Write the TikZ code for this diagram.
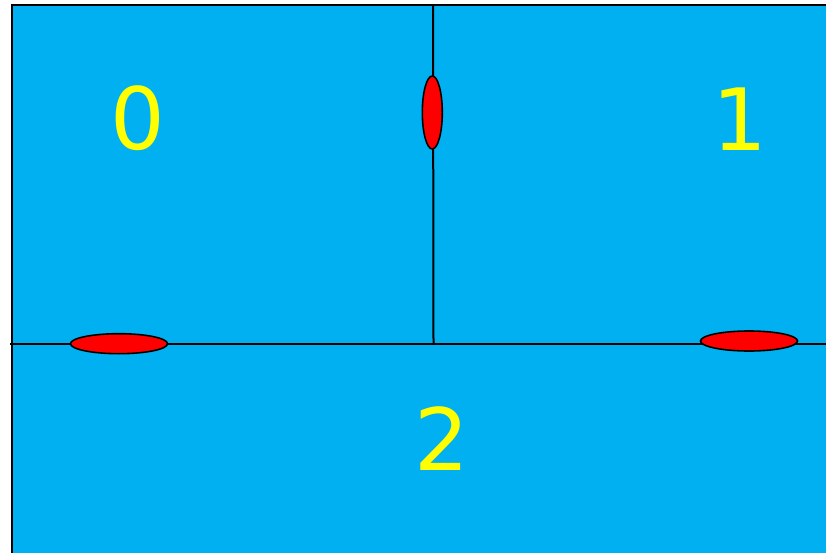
\documentclass[tikz,border=0pt]{standalone}
\usepackage{fontspec}
\setmainfont{DejaVu Sans}
\definecolor{skyb}{HTML}{00B0F0}
\definecolor{yel}{HTML}{FFFF00}
\usetikzlibrary{shapes.geometric}
\tikzset{
  seal/.style={ellipse, draw=black, line width=1.6pt, fill=red, inner sep=0pt},
  lbl/.style={text=yel, font=\fontsize{86}{86}\selectfont, inner sep=0pt},
  wall/.style={draw=black, line width=2pt}
}
\begin{document}
\begin{tikzpicture}[x=1pt,y=-1pt]
\useasboundingbox (0,0) rectangle (826,553);
\fill[skyb] (12,5) rectangle (830,560);
\draw[line width=2.4pt] (12,560) -- (12,5) -- (830,5);
\coordinate (hl) at (10,343.5);
\coordinate (hr) at (830,343.5);
\coordinate (vt) at (433,5);
\coordinate (vb) at (433.5,343.5);
\draw[wall] (hl) -- (hr);
\draw[wall] (vt) -- (vb);
\node[seal, minimum width=20pt, minimum height=73pt] (s0) at (432.3,112.5) {};
\node[seal, minimum width=97pt, minimum height=20pt] (s1) at (119,343.7) {};
\node[seal, minimum width=97pt, minimum height=20pt] (s2) at (749,341) {};
\node[lbl] (n0) at (137.5,118.5) {0};
\node[lbl] (n1) at (739.5,119.5) {1};
\node[lbl] (n2) at (442,439) {2};
\end{tikzpicture}
\end{document}
